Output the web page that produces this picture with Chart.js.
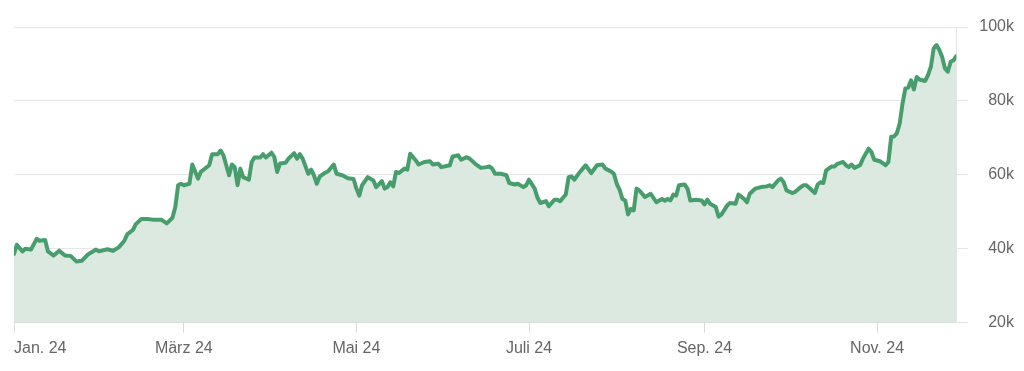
<!DOCTYPE html>
<html lang="de"><head><meta charset="UTF-8">
<title>Kursverlauf 2024</title>
<script src="https://cdn.jsdelivr.net/npm/chart.js@4.4.1/dist/chart.umd.min.js"></script>
<style>
*{box-sizing:border-box;margin:0;padding:0;}
body{background:#fff;width:1024px;height:371px;overflow:hidden;}
.wrap{position:relative;width:1024px;height:371px;}
</style></head>
<body><div class="wrap"><canvas id="priceChart" width="1024" height="371"></canvas></div>
<script>
// day of year 2024 (0 = 1 Jan) and price in thousands
const days = [0,1,3,4,6,8,9,11,12,14,16,18,20,22,24,26,27,29,30,33,35,37,39,40,42,43,45,47,49,52,54,56,57,58,59,60,62,63,65,66,68,69,70,72,73,74,76,77,78,79,80,81,83,84,85,87,88,89,91,92,93,94,96,97,99,100,101,102,104,105,106,107,108,110,111,113,114,116,118,120,121,122,123,125,127,128,130,131,132,133,134,135,136,138,139,140,142,143,145,147,148,150,151,154,155,157,158,160,161,163,165,167,168,169,170,172,174,175,177,178,180,181,182,184,185,186,188,189,191,192,193,195,196,197,198,200,201,202,204,206,208,209,211,212,213,214,215,216,217,218,219,220,221,223,225,227,229,230,231,232,233,234,235,237,238,239,241,243,244,245,246,248,249,250,252,253,255,256,258,259,260,262,264,266,267,268,270,271,272,273,275,276,278,279,280,281,283,284,285,286,287,289,290,291,293,294,295,296,297,299,300,302,303,304,306,307,308,309,310,311,312,313,314,315,316,317,318,319,320,322,323,324,325,326,327,328,329,330,331,332,333];
const priceK = [38.6,41.1,39.3,40,39.8,42.7,42.2,42.4,39.3,38.2,39.5,38.2,38.1,36.6,36.8,38.4,38.9,39.8,39.3,39.9,39.5,40.4,42.2,43.9,45.1,46.6,48.1,48.1,47.9,47.9,46.9,48.4,51.3,57.2,57.6,57.2,57.6,62.8,59,60.8,62,62.6,65.6,65.6,66.6,65.3,59.9,62.8,62.1,57.2,61.7,59.4,58.7,63.5,64.7,64.7,65.6,64.7,66,64.8,60.8,63.1,63.3,64.4,65.9,64.4,65.6,64.4,60.3,61.4,59.9,57.6,59.5,60.6,61,62.8,60.3,59.9,59.1,58.9,56.3,54.4,57.2,59.4,58.5,56.7,58.3,56.3,56.7,58,56.9,60.8,60.5,61.7,61.4,65.7,63.9,62.8,63.5,63.7,62.8,63,62.1,62.6,65,65.3,64.1,64.8,64.4,63,61.9,62.1,62.3,61.7,60.3,60.3,59.9,57.8,57.4,57.6,56.7,57.2,58.7,56.3,53.8,52.4,52.9,51.5,53.3,53.3,52.9,54.7,59.4,59.6,58.7,60.8,61.7,62.6,60.5,62.6,62.8,61.7,60.9,60.3,57.6,56,53.5,53.1,49.3,50.8,50.4,56.3,55.8,54,54.9,52.6,53.5,53,53.5,53.1,54.7,54.4,57.2,57.4,56.3,53.1,53.3,53.1,52,53.3,52.2,51.3,48.7,49.3,51.7,52.4,52.2,54.7,53.5,52.6,54.9,56.3,56.7,56.9,57.2,56.7,58.5,59,58,55.8,55.1,55.4,56.7,57.2,57.2,56.5,55.1,57.4,58,57.8,61.2,62.3,62.3,63,63.5,62.6,62.1,62.8,61.9,62.6,64.4,67.1,66.2,64.1,63.7,63.2,62.6,63.5,70.3,70.4,71.3,73.9,79.3,83.4,83.6,85.6,83.1,86.5,85.8,85.4,87,89.2,94.2,95.1,93.8,91.9,88.8,87.9,90.6,91,92.1];

// x axis: first day of every second month, last entry only pads the axis end
const monthDays   = [0,60,121,182,244,305,333];
const monthLabels = ['Jan. 24','März 24','Mai 24','Juli 24','Sep. 24','Nov. 24',''];
const yTicks = [20,40,60,80,100];

const LINE = '#479d6c', FILL = '#dbe9e1', GRID = '#e6e6e6', TXT = '#666';
const FONT = {family:"'Helvetica Neue',Helvetica,'Liberation Sans',Arial,sans-serif",size:16};

new Chart(document.getElementById('priceChart'),{
  type:'line',
  data:{datasets:[{
    data:days.map((d,i)=>({x:d,y:priceK[i]})),
    borderColor:LINE,borderWidth:4,backgroundColor:FILL,fill:'start',
    pointRadius:0,tension:0,borderJoinStyle:'round',borderCapStyle:'round'
  }]},
  options:{
    responsive:false,animation:false,devicePixelRatio:1,
    layout:{padding:{left:14,right:10,top:27,bottom:7}},
    plugins:{legend:{display:false},tooltip:{enabled:false}},
    scales:{
      x:{type:'linear',min:0,max:333,
        afterBuildTicks:s=>{s.ticks=monthDays.map(v=>({value:v}));},
        ticks:{autoSkip:false,maxRotation:0,align:'inner',padding:6,color:TXT,font:FONT,
          callback:(v,i)=>monthLabels[i]},
        grid:{drawOnChartArea:false,tickLength:10,
          tickColor:c=>c.index===monthDays.length-1?'rgba(0,0,0,0)':'#dcdcdc'},
        border:{display:true,color:'#cfd8d3'}},
      y:{position:'right',min:20,max:100,
        afterBuildTicks:s=>{s.ticks=yTicks.map(v=>({value:v}));},
        ticks:{crossAlign:'far',padding:5.5,color:TXT,font:FONT,callback:v=>v+'k'},
        grid:{color:GRID,tickLength:12},
        border:{display:true,color:GRID}}
    }
  }
});
</script></body></html>
